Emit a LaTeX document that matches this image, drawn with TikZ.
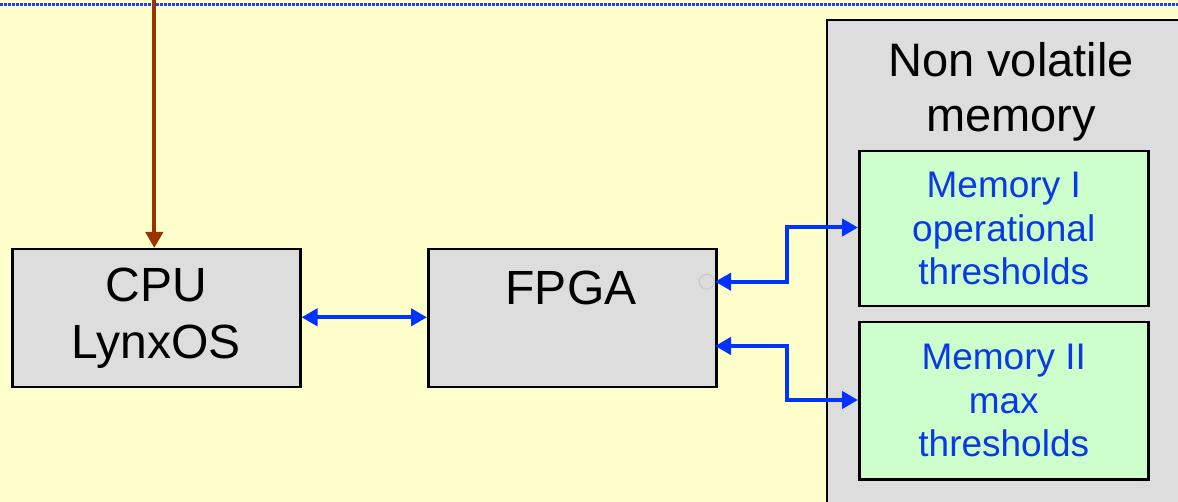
\documentclass[tikz,border=0pt]{standalone}
\usepackage{fontspec}
\setmainfont{Liberation Sans}
\usetikzlibrary{arrows.meta}
\definecolor{bgyellow}{HTML}{FFFFCC}
\definecolor{boxgray}{HTML}{DDDDDD}
\definecolor{memgreen}{HTML}{CCFFCC}
\definecolor{arrowblue}{HTML}{0033FF}
\definecolor{textblue}{HTML}{0A3AE6}
\definecolor{brownline}{HTML}{993300}
\definecolor{dotblue}{HTML}{1A44F0}
\tikzset{
  x=1pt, y=-1pt,
  graybox/.style={draw=black, line width=2.5pt, fill=boxgray, inner sep=0pt, anchor=north west},
  membox/.style={draw=black, line width=2.5pt, fill=memgreen, inner sep=0pt, anchor=north west,
    text=textblue, align=center, font=\fontsize{37}{43.5}\selectfont},
  bigtext/.style={align=center, font=\fontsize{48}{57}\selectfont},
  tip/.style={-{Triangle[length=16pt,width=17pt]}},
  dtip/.style={{Triangle[length=16pt,width=17pt]}-{Triangle[length=16pt,width=17pt]}},
  blueconn/.style={draw=arrowblue, line width=4pt},
}
\begin{document}
\begin{tikzpicture}
\useasboundingbox (0,0) rectangle (1178,502);
\clip (0,0) rectangle (1178,502);
\fill[bgyellow] (0,0) rectangle (1178,502);
\draw[dotblue, line width=3pt, dash pattern=on 2.5pt off 1.5pt] (0,5) -- (1178,5);

% outer non volatile memory box
\draw[line width=2.5pt, fill=boxgray] (827,20) rectangle (1210,530);
\node[align=center, font=\fontsize{47}{55}\selectfont, anchor=base] (nvm) at (1011,131.7) {Non volatile\\memory};

% CPU
\node[graybox, minimum width=288pt, minimum height=138pt, bigtext] (cpu) at (11,248) {CPU\\LynxOS};

% FPGA
\node[graybox, minimum width=288pt, minimum height=138pt] (fpga) at (427,248) {};
\node[font=\fontsize{48}{57}\selectfont, anchor=base] (fpgatext) at (571,305) {FPGA};

% memories
\node[membox, minimum width=289pt, minimum height=155pt] (mem1) at (858,150) {Memory I\\operational\\thresholds};
\node[membox, minimum width=289pt, minimum height=157pt] (mem2) at (858,321) {Memory II\\max\\thresholds};

% top incoming brown arrow
\coordinate (topin) at (154.3,0);
\draw[brownline, line width=4pt, tip] (topin) -- (cpu.north -| topin);

% CPU <-> FPGA
\draw[blueconn, dtip] (cpu.east |- 0,317.3) -- (fpga.west |- 0,317.3);

% FPGA <-> Memory I
\coordinate (f1) at (715,281.7);
\coordinate (m1) at (858,227.5);
\draw[blueconn, dtip] (f1) -- (787,281.7) -- (787,227.5) -- (m1);

% FPGA <-> Memory II
\coordinate (f2) at (715,346);
\coordinate (m2) at (858,400);
\draw[blueconn, dtip] (f2) -- (787,346) -- (787,400) -- (m2);

% small connection-point circle
\draw[gray!45, line width=0.8pt] (706.7,281.7) circle (7.5pt);
\end{tikzpicture}
\end{document}
